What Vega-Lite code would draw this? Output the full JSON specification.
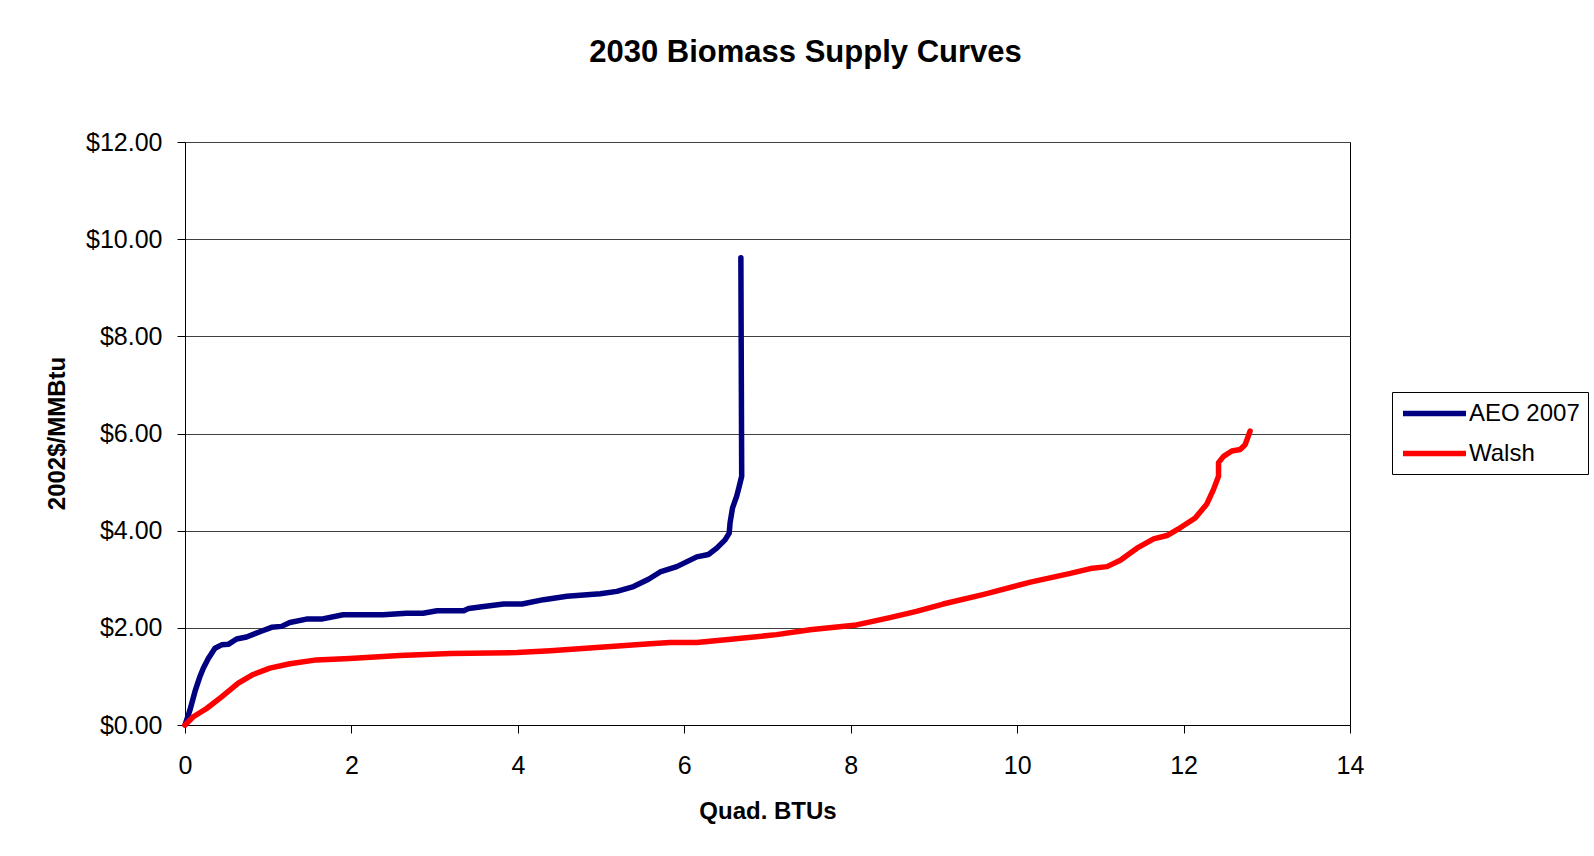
{
  "$schema": "https://vega.github.io/schema/vega-lite/v6.json",
  "width": 1165,
  "height": 583,
  "autosize": {"type": "none"},
  "padding": {"left": 185, "top": 142, "right": 244, "bottom": 131},
  "background": "white",
  "title": {
    "text": "2030 Biomass Supply Curves",
    "font": "Liberation Sans",
    "fontSize": 31,
    "fontWeight": "bold",
    "color": "black",
    "anchor": "middle",
    "frame": "group",
    "dx": 38,
    "offset": 61
  },
  "data": {
    "values": [
      {"series": "AEO 2007", "i": 0, "q": 0.0, "p": 0.0},
      {"series": "AEO 2007", "i": 1, "q": 0.06, "p": 0.31},
      {"series": "AEO 2007", "i": 2, "q": 0.12, "p": 0.69},
      {"series": "AEO 2007", "i": 3, "q": 0.18, "p": 1.0},
      {"series": "AEO 2007", "i": 4, "q": 0.22, "p": 1.17},
      {"series": "AEO 2007", "i": 5, "q": 0.28, "p": 1.37},
      {"series": "AEO 2007", "i": 6, "q": 0.36, "p": 1.58},
      {"series": "AEO 2007", "i": 7, "q": 0.44, "p": 1.65},
      {"series": "AEO 2007", "i": 8, "q": 0.52, "p": 1.66},
      {"series": "AEO 2007", "i": 9, "q": 0.62, "p": 1.77},
      {"series": "AEO 2007", "i": 10, "q": 0.74, "p": 1.81},
      {"series": "AEO 2007", "i": 11, "q": 0.9, "p": 1.92},
      {"series": "AEO 2007", "i": 12, "q": 1.04, "p": 2.01},
      {"series": "AEO 2007", "i": 13, "q": 1.16, "p": 2.03},
      {"series": "AEO 2007", "i": 14, "q": 1.26, "p": 2.11},
      {"series": "AEO 2007", "i": 15, "q": 1.46, "p": 2.18},
      {"series": "AEO 2007", "i": 16, "q": 1.64, "p": 2.18},
      {"series": "AEO 2007", "i": 17, "q": 1.9, "p": 2.27},
      {"series": "AEO 2007", "i": 18, "q": 2.38, "p": 2.27},
      {"series": "AEO 2007", "i": 19, "q": 2.66, "p": 2.3},
      {"series": "AEO 2007", "i": 20, "q": 2.86, "p": 2.3},
      {"series": "AEO 2007", "i": 21, "q": 3.03, "p": 2.35},
      {"series": "AEO 2007", "i": 22, "q": 3.35, "p": 2.35},
      {"series": "AEO 2007", "i": 23, "q": 3.41, "p": 2.4},
      {"series": "AEO 2007", "i": 24, "q": 3.59, "p": 2.44},
      {"series": "AEO 2007", "i": 25, "q": 3.83, "p": 2.49},
      {"series": "AEO 2007", "i": 26, "q": 4.05, "p": 2.49},
      {"series": "AEO 2007", "i": 27, "q": 4.31, "p": 2.58},
      {"series": "AEO 2007", "i": 28, "q": 4.59, "p": 2.65},
      {"series": "AEO 2007", "i": 29, "q": 4.99, "p": 2.7},
      {"series": "AEO 2007", "i": 30, "q": 5.19, "p": 2.75},
      {"series": "AEO 2007", "i": 31, "q": 5.39, "p": 2.85},
      {"series": "AEO 2007", "i": 32, "q": 5.57, "p": 3.0},
      {"series": "AEO 2007", "i": 33, "q": 5.71, "p": 3.15},
      {"series": "AEO 2007", "i": 34, "q": 5.91, "p": 3.26},
      {"series": "AEO 2007", "i": 35, "q": 6.15, "p": 3.46},
      {"series": "AEO 2007", "i": 36, "q": 6.29, "p": 3.51},
      {"series": "AEO 2007", "i": 37, "q": 6.39, "p": 3.64},
      {"series": "AEO 2007", "i": 38, "q": 6.49, "p": 3.81},
      {"series": "AEO 2007", "i": 39, "q": 6.54, "p": 3.95},
      {"series": "AEO 2007", "i": 40, "q": 6.55, "p": 4.16},
      {"series": "AEO 2007", "i": 41, "q": 6.58, "p": 4.47},
      {"series": "AEO 2007", "i": 42, "q": 6.63, "p": 4.71},
      {"series": "AEO 2007", "i": 43, "q": 6.66, "p": 4.91},
      {"series": "AEO 2007", "i": 44, "q": 6.69, "p": 5.12},
      {"series": "AEO 2007", "i": 45, "q": 6.68, "p": 9.62},
      {"series": "Walsh", "i": 0, "q": 0.0, "p": 0.0},
      {"series": "Walsh", "i": 1, "q": 0.1, "p": 0.17},
      {"series": "Walsh", "i": 2, "q": 0.26, "p": 0.34},
      {"series": "Walsh", "i": 3, "q": 0.44, "p": 0.58},
      {"series": "Walsh", "i": 4, "q": 0.64, "p": 0.86},
      {"series": "Walsh", "i": 5, "q": 0.82, "p": 1.04},
      {"series": "Walsh", "i": 6, "q": 1.02, "p": 1.17},
      {"series": "Walsh", "i": 7, "q": 1.26, "p": 1.26},
      {"series": "Walsh", "i": 8, "q": 1.58, "p": 1.34},
      {"series": "Walsh", "i": 9, "q": 1.98, "p": 1.37},
      {"series": "Walsh", "i": 10, "q": 2.58, "p": 1.43},
      {"series": "Walsh", "i": 11, "q": 3.19, "p": 1.47},
      {"series": "Walsh", "i": 12, "q": 3.99, "p": 1.49},
      {"series": "Walsh", "i": 13, "q": 4.39, "p": 1.53},
      {"series": "Walsh", "i": 14, "q": 4.99, "p": 1.6},
      {"series": "Walsh", "i": 15, "q": 5.59, "p": 1.67},
      {"series": "Walsh", "i": 16, "q": 5.83, "p": 1.7},
      {"series": "Walsh", "i": 17, "q": 6.15, "p": 1.7},
      {"series": "Walsh", "i": 18, "q": 6.59, "p": 1.77},
      {"series": "Walsh", "i": 19, "q": 7.11, "p": 1.86},
      {"series": "Walsh", "i": 20, "q": 7.51, "p": 1.96},
      {"series": "Walsh", "i": 21, "q": 8.07, "p": 2.06},
      {"series": "Walsh", "i": 22, "q": 8.47, "p": 2.21},
      {"series": "Walsh", "i": 23, "q": 8.79, "p": 2.34},
      {"series": "Walsh", "i": 24, "q": 9.11, "p": 2.49},
      {"series": "Walsh", "i": 25, "q": 9.6, "p": 2.69},
      {"series": "Walsh", "i": 26, "q": 10.16, "p": 2.94},
      {"series": "Walsh", "i": 27, "q": 10.64, "p": 3.12},
      {"series": "Walsh", "i": 28, "q": 10.88, "p": 3.22},
      {"series": "Walsh", "i": 29, "q": 11.08, "p": 3.26},
      {"series": "Walsh", "i": 30, "q": 11.24, "p": 3.39},
      {"series": "Walsh", "i": 31, "q": 11.44, "p": 3.64},
      {"series": "Walsh", "i": 32, "q": 11.64, "p": 3.83},
      {"series": "Walsh", "i": 33, "q": 11.8, "p": 3.9},
      {"series": "Walsh", "i": 34, "q": 11.96, "p": 4.06},
      {"series": "Walsh", "i": 35, "q": 12.14, "p": 4.26},
      {"series": "Walsh", "i": 36, "q": 12.28, "p": 4.55},
      {"series": "Walsh", "i": 37, "q": 12.36, "p": 4.85},
      {"series": "Walsh", "i": 38, "q": 12.42, "p": 5.12},
      {"series": "Walsh", "i": 39, "q": 12.42, "p": 5.4},
      {"series": "Walsh", "i": 40, "q": 12.48, "p": 5.53},
      {"series": "Walsh", "i": 41, "q": 12.58, "p": 5.64},
      {"series": "Walsh", "i": 42, "q": 12.68, "p": 5.67},
      {"series": "Walsh", "i": 43, "q": 12.74, "p": 5.77},
      {"series": "Walsh", "i": 44, "q": 12.8, "p": 6.05}
    ]
  },
  "mark": {"type": "line", "strokeWidth": 5.5, "strokeCap": "round", "strokeJoin": "round", "clip": false},
  "encoding": {
    "x": {
      "field": "q",
      "type": "quantitative",
      "scale": {"domain": [0, 14], "nice": false, "zero": true},
      "axis": {
        "title": "Quad. BTUs",
        "values": [0, 2, 4, 6, 8, 10, 12, 14],
        "format": "d",
        "grid": false,
        "tickSize": 8,
        "labelFlush": false,
        "labelPadding": 20,
        "labelFontSize": 25,
        "titleY": 93,
        "titleBaseline": "alphabetic"
      }
    },
    "y": {
      "field": "p",
      "type": "quantitative",
      "scale": {"domain": [0, 12], "nice": false},
      "axis": {
        "title": "2002$/MMBtu",
        "values": [0, 2, 4, 6, 8, 10, 12],
        "format": "$.2f",
        "grid": true,
        "tickSize": 8,
        "labelFlush": false,
        "labelPadding": 15,
        "labelFontSize": 25,
        "titleX": -121,
        "titleY": 291,
        "titleAngle": -90,
        "titleAlign": "center",
        "titleBaseline": "alphabetic"
      }
    },
    "order": {"field": "i", "type": "quantitative"},
    "color": {
      "field": "series",
      "type": "nominal",
      "scale": {"domain": ["AEO 2007", "Walsh"], "range": ["#000080", "#FF0000"]},
      "legend": {
        "title": null,
        "orient": "none",
        "legendX": 1207,
        "legendY": 250,
        "direction": "vertical",
        "symbolType": "M-3,0H3",
        "symbolSize": 441,
        "symbolOffset": 21,
        "symbolStrokeWidth": 5.5,
        "labelFontSize": 24,
        "labelOffset": 21,
        "rowPadding": 14,
        "strokeColor": "black",
        "fillColor": "white",
        "padding": 8
      }
    }
  },
  "config": {
    "font": "Liberation Sans",
    "view": {"stroke": "black", "strokeWidth": 1},
    "axis": {
      "labelFont": "Liberation Sans",
      "labelColor": "black",
      "titleFont": "Liberation Sans",
      "titleFontSize": 24,
      "titleFontWeight": "bold",
      "titleColor": "black",
      "domainColor": "black",
      "domainWidth": 1,
      "tickColor": "black",
      "tickWidth": 1,
      "gridColor": "#404040",
      "gridWidth": 1,
      "gridOpacity": 1
    },
    "legend": {
      "labelFont": "Liberation Sans",
      "labelColor": "black",
      "symbolOpacity": 1
    }
  }
}
